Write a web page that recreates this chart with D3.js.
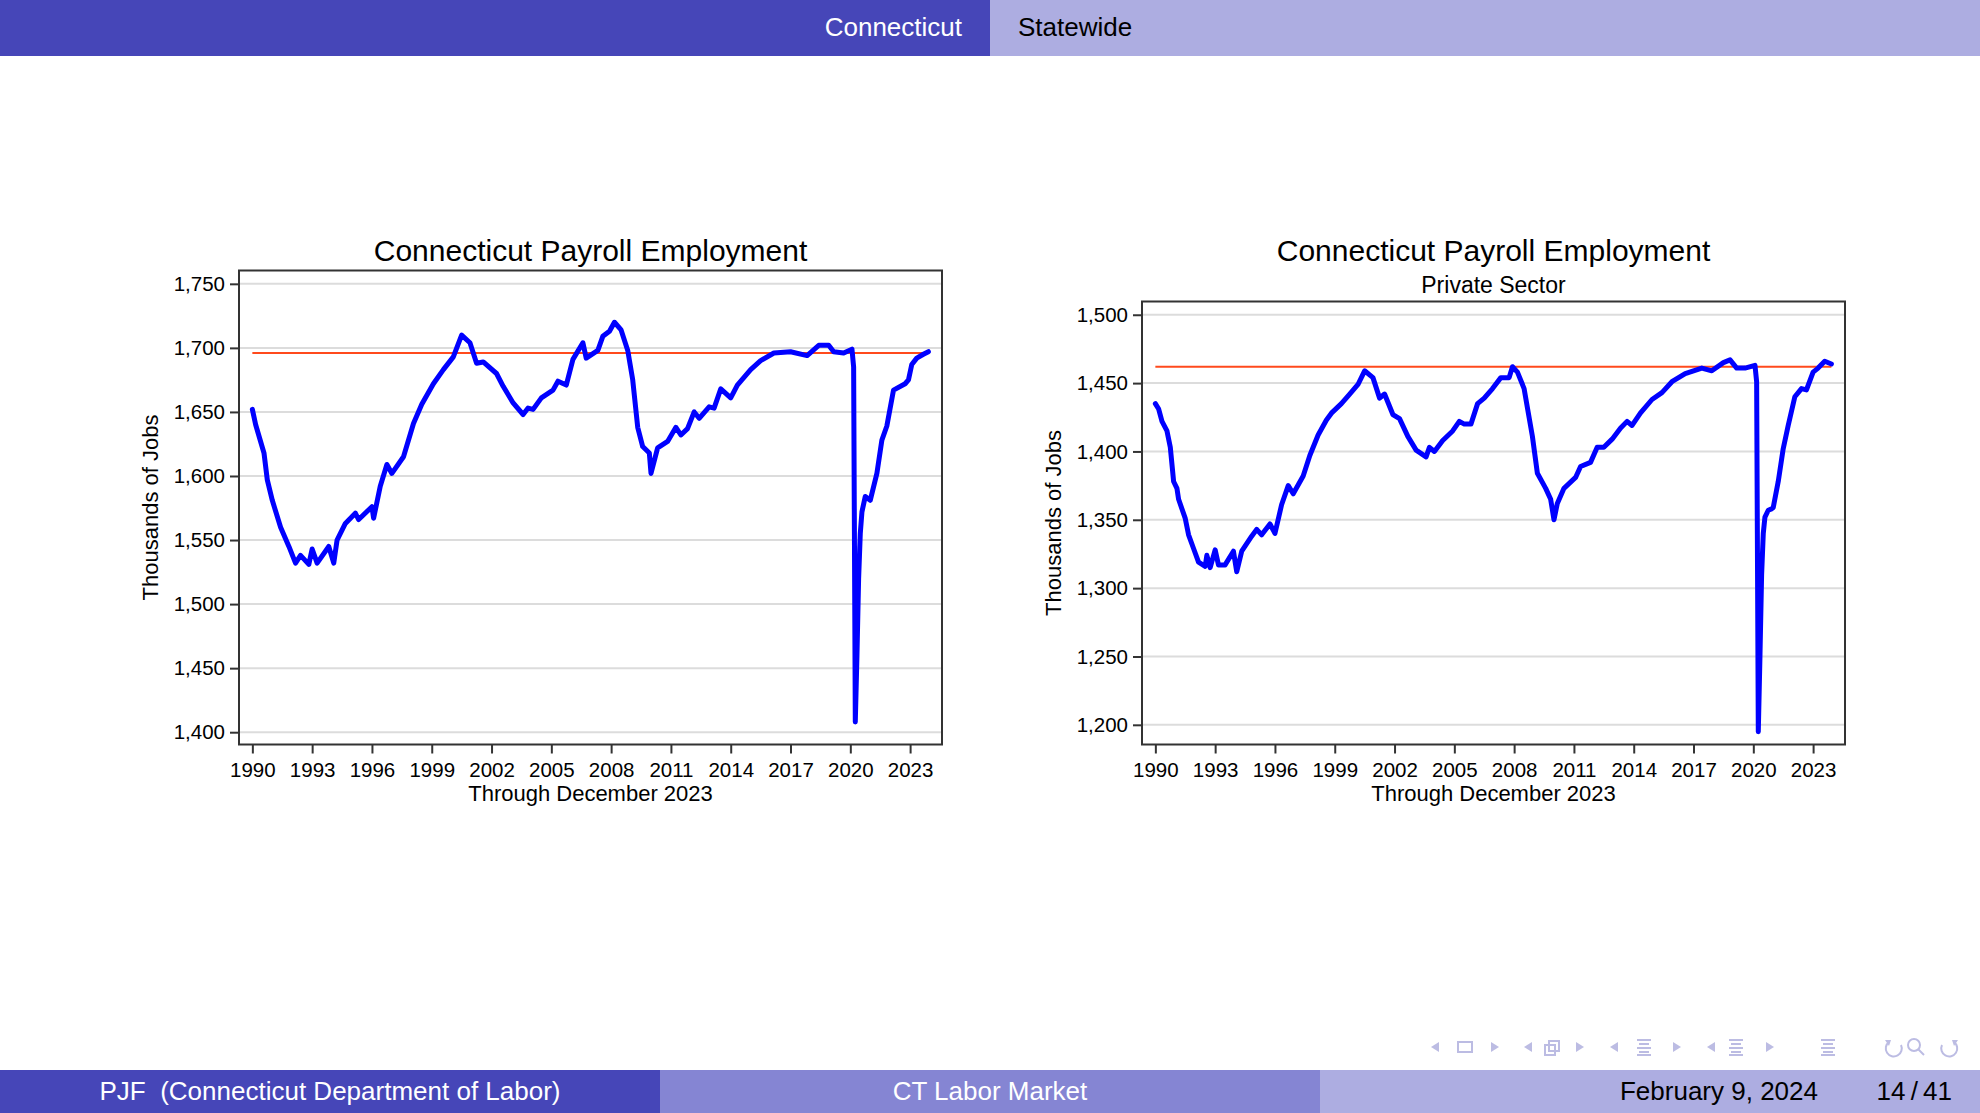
<!DOCTYPE html>
<html>
<head>
<meta charset="utf-8">
<script src="https://cdn.jsdelivr.net/npm/d3@7"></script>
<style>
body { margin: 0; background: #fff; }
text { font-family: "Liberation Sans", Arial, Helvetica, sans-serif; }
</style>
</head>
<body>
<div id="chart"></div>
<script>
// total nonfarm, thousands of jobs
var totalDates = ["1990-01","1990-03","1990-08","1990-10","1991-01","1991-06","1991-11","1992-03","1992-06","1992-11",
    "1993-01","1993-04","1993-11","1994-02","1994-04","1994-09","1995-03","1995-05","1996-01","1996-02",
    "1996-06","1996-10","1997-01","1997-08","1998-02","1998-07","1999-02","1999-08","2000-02","2000-07",
    "2000-12","2001-04","2001-08","2002-04","2002-08","2003-02","2003-08","2003-11","2004-02","2004-07",
    "2005-02","2005-05","2005-10","2006-02","2006-08","2006-10","2007-05","2007-08","2007-12","2008-03",
    "2008-07","2008-11","2009-02","2009-05","2009-08","2009-12","2010-01","2010-05","2010-11","2011-04",
    "2011-07","2011-11","2012-03","2012-06","2012-12","2013-03","2013-07","2014-01","2014-05","2015-01",
    "2015-07","2016-03","2017-01","2017-11","2018-06","2018-12","2019-03","2019-09","2020-02","2020-03",
    "2020-04","2020-05","2020-06","2020-07","2020-08","2020-10","2020-12","2021-01","2021-05","2021-08",
    "2021-11","2022-03","2022-10","2022-12","2023-02","2023-05","2023-09","2023-12"];
var totalJobs = [1652,1640,1618,1597,1581,1560,1545,1532,1538,1531,
    1543,1532,1545,1532,1550,1563,1571,1566,1576,1567,
    1592,1609,1602,1615,1641,1656,1672,1683,1693,1710,
    1704,1688,1689,1680,1670,1657,1648,1653,1652,1661,
    1667,1674,1671,1691,1704,1692,1698,1709,1713,1720,
    1714,1698,1675,1638,1623,1618,1602,1622,1627,1638,
    1632,1637,1650,1645,1654,1653,1668,1661,1671,1683,
    1690,1696,1697,1694,1702,1702,1697,1696,1699,1685,
    1408,1460,1520,1555,1572,1584,1582,1581,1602,1628,
    1639,1667,1672,1675,1687,1692,1695,1697];
var totalRef = 1696;

// private sector
var privDates = ["1990-01","1990-03","1990-05","1990-08","1990-10","1990-12","1991-02","1991-03","1991-07","1991-09",
    "1991-12","1992-03","1992-07","1992-08","1992-10","1993-01","1993-03","1993-07","1993-12","1994-02",
    "1994-05","1994-11","1995-02","1995-05","1995-10","1996-01","1996-05","1996-09","1996-12","1997-06",
    "1997-10","1998-03","1998-08","1998-11","1999-05","1999-10","2000-03","2000-07","2000-12","2001-04",
    "2001-07","2001-12","2002-04","2002-09","2003-02","2003-08","2003-10","2004-01","2004-06","2004-12",
    "2005-04","2005-07","2005-11","2006-03","2006-07","2006-12","2007-05","2007-10","2007-12","2008-03",
    "2008-07","2008-12","2009-03","2009-08","2009-11","2010-01","2010-03","2010-07","2011-02","2011-05",
    "2011-11","2012-03","2012-07","2012-12","2013-05","2013-09","2013-12","2014-05","2014-12","2015-06",
    "2015-12","2016-08","2017-06","2017-12","2018-07","2018-11","2019-03","2019-08","2020-02","2020-03",
    "2020-04","2020-05","2020-06","2020-07","2020-08","2020-10","2020-12","2021-01","2021-04","2021-07",
    "2021-10","2022-02","2022-06","2022-09","2023-01","2023-04","2023-08","2023-12"];
var privJobs = [1435,1431,1422,1415,1403,1378,1373,1365,1351,1339,
    1329,1319,1316,1324,1315,1328,1317,1317,1327,1312,
    1327,1338,1343,1339,1347,1340,1361,1375,1369,1382,
    1397,1412,1423,1428,1435,1442,1449,1459,1454,1439,
    1442,1427,1424,1411,1401,1396,1403,1400,1408,1415,
    1422,1420,1420,1435,1439,1446,1454,1454,1462,1458,
    1446,1411,1384,1373,1365,1350,1362,1373,1381,1389,
    1392,1403,1403,1409,1417,1422,1419,1428,1438,1443,
    1451,1457,1461,1459,1465,1467,1461,1461,1463,1451,
    1195,1250,1310,1340,1352,1357,1358,1359,1378,1402,
    1419,1440,1446,1445,1458,1461,1466,1464];
var privRef = 1462;

var yearTicks = [1990,1993,1996,1999,2002,2005,2008,2011,2014,2017,2020,2023];
var totalTicks = [1400,1450,1500,1550,1600,1650,1700,1750];
var privTicks = [1200,1250,1300,1350,1400,1450,1500];

var W = 1980, H = 1113,
    dark = "#4646b8", mid = "#8585d3", light = "#adade1";

function toYear(s) {
    var p = s.split("-");
    return +p[0] + (+p[1] - 1) / 12;
}

var svg = d3.select("#chart").append("svg")
    .attr("width", W)
    .attr("height", H);

svg.append("rect").attr("width", W).attr("height", H).attr("fill", "#fff");

// header bar
svg.append("rect").attr("x", 0).attr("y", 0).attr("width", 990).attr("height", 56).attr("fill", dark);
svg.append("rect").attr("x", 990).attr("y", 0).attr("width", 990).attr("height", 56).attr("fill", light);
svg.append("text").attr("x", 962).attr("y", 36).attr("text-anchor", "end")
    .attr("fill", "#fff").style("font-size", "26px").text("Connecticut");
svg.append("text").attr("x", 1018).attr("y", 36)
    .attr("fill", "#000").style("font-size", "26px").text("Statewide");

// footer bar
svg.append("rect").attr("x", 0).attr("y", 1070).attr("width", 660).attr("height", 43).attr("fill", dark);
svg.append("rect").attr("x", 660).attr("y", 1070).attr("width", 660).attr("height", 43).attr("fill", mid);
svg.append("rect").attr("x", 1320).attr("y", 1070).attr("width", 660).attr("height", 43).attr("fill", light);
svg.append("text").attr("x", 330).attr("y", 1100).attr("text-anchor", "middle")
    .attr("fill", "#fff").style("font-size", "26px").attr("xml:space", "preserve")
    .text("PJF  (Connecticut Department of Labor)");
svg.append("text").attr("x", 990).attr("y", 1100).attr("text-anchor", "middle")
    .attr("fill", "#fff").style("font-size", "26px").text("CT Labor Market");
svg.append("text").attr("x", 1818).attr("y", 1100).attr("text-anchor", "end")
    .attr("fill", "#000").style("font-size", "26px").text("February 9, 2024");
svg.append("text").attr("x", 1952).attr("y", 1100).attr("text-anchor", "end")
    .attr("fill", "#000").style("font-size", "26px").text("14\u2009/\u200941");

// beamer navigation symbols
var nav = svg.append("g").attr("fill", "#bcbce3").attr("stroke", "#bcbce3");
function triL(x) { nav.append("path").attr("d", "M" + (x + 4) + ",1042 L" + (x - 4) + ",1047 L" + (x + 4) + ",1052 Z").attr("stroke", "none"); }
function triR(x) { nav.append("path").attr("d", "M" + (x - 4) + ",1042 L" + (x + 4) + ",1047 L" + (x - 4) + ",1052 Z").attr("stroke", "none"); }
function lines(x) {
    [1040, 1044, 1048, 1052, 1055].forEach(function (y, i) {
        nav.append("line").attr("x1", x - (i % 2 ? 5 : 7)).attr("x2", x + (i % 2 ? 5 : 7))
            .attr("y1", y).attr("y2", y).attr("stroke-width", 2);
    });
}
triL(1435); nav.append("rect").attr("x", 1458).attr("y", 1042).attr("width", 14).attr("height", 10)
    .attr("fill", "none").attr("stroke-width", 2); triR(1495);
triL(1528);
nav.append("rect").attr("x", 1545).attr("y", 1045).attr("width", 10).attr("height", 10).attr("fill", "none").attr("stroke-width", 2);
nav.append("rect").attr("x", 1549).attr("y", 1041).attr("width", 10).attr("height", 10).attr("fill", "none").attr("stroke-width", 2);
triR(1580);
triL(1614); lines(1644); triR(1677);
triL(1711); lines(1736); triR(1770);
lines(1828);
// undo / find / redo
nav.append("path").attr("d", "M1889,1042 A8,8 0 1 0 1901,1045").attr("fill", "none").attr("stroke-width", 2);
nav.append("path").attr("d", "M1885,1040 L1891,1040 L1889,1046 Z").attr("stroke", "none");
nav.append("circle").attr("cx", 1914).attr("cy", 1045).attr("r", 6).attr("fill", "none").attr("stroke-width", 2);
nav.append("line").attr("x1", 1918).attr("y1", 1049).attr("x2", 1924).attr("y2", 1055).attr("stroke-width", 2);
nav.append("path").attr("d", "M1954,1042 A8,8 0 1 1 1942,1045").attr("fill", "none").attr("stroke-width", 2);
nav.append("path").attr("d", "M1958,1040 L1952,1040 L1954,1046 Z").attr("stroke", "none");

function drawPanel(opt) {
    var x = d3.scaleLinear().domain([1989.33, 2024.6]).range([opt.left, opt.left + 703]);
    var y = d3.scaleLinear().domain(opt.yDomain).range([744.5, opt.top]);
    var g = svg.append("g");

    // gridlines
    g.selectAll(".grid")
        .data(opt.yTicks)
        .enter().append("line")
        .attr("x1", opt.left).attr("x2", opt.left + 703)
        .attr("y1", function (d) { return y(d); })
        .attr("y2", function (d) { return y(d); })
        .attr("stroke", "#dcdcdc").attr("stroke-width", 2);

    var yAxis = g.append("g")
        .attr("transform", "translate(" + opt.left + ",0)")
        .call(d3.axisLeft(y).tickValues(opt.yTicks).tickFormat(d3.format(",")).tickSize(9).tickPadding(5));
    var xAxis = g.append("g")
        .attr("transform", "translate(0,744.5)")
        .call(d3.axisBottom(x).tickValues(yearTicks).tickFormat(d3.format("d")).tickSize(9).tickPadding(9));
    [yAxis, xAxis].forEach(function (a) {
        a.select(".domain").remove();
        a.selectAll(".tick line").attr("stroke", "#333").attr("stroke-width", 2);
        a.selectAll(".tick text").attr("fill", "#000")
            .style("font-size", "20.5px").style("font-family", "'Liberation Sans', Arial, sans-serif");
    });

    // reference line: current level
    g.append("line")
        .attr("x1", x(1990)).attr("x2", x(toYear("2023-12")))
        .attr("y1", y(opt.ref)).attr("y2", y(opt.ref))
        .attr("stroke", "#ff4a1c").attr("stroke-width", 2);

    var pts = opt.dates.map(function (d, i) { return { t: toYear(d), v: opt.values[i] }; });
    g.append("path")
        .datum(pts)
        .attr("fill", "none")
        .attr("stroke", "#0000ff")
        .attr("stroke-width", 5)
        .attr("stroke-linejoin", "round")
        .attr("stroke-linecap", "round")
        .attr("d", d3.line().x(function (d) { return x(d.t); }).y(function (d) { return y(d.v); }));

    // frame
    g.append("rect")
        .attr("x", opt.left).attr("y", opt.top)
        .attr("width", 703).attr("height", 744.5 - opt.top)
        .attr("fill", "none").attr("stroke", "#333").attr("stroke-width", 2);

    var cx = opt.left + 351.5;
    g.append("text").attr("x", cx).attr("y", 261).attr("text-anchor", "middle")
        .style("font-size", "30px").text("Connecticut Payroll Employment");
    if (opt.subtitle) {
        g.append("text").attr("x", cx).attr("y", 293).attr("text-anchor", "middle")
            .style("font-size", "23px").text(opt.subtitle);
    }
    g.append("text").attr("x", cx).attr("y", 801).attr("text-anchor", "middle")
        .style("font-size", "22px").text("Through December 2023");
    g.append("text")
        .attr("transform", "translate(" + (opt.left - 81) + "," + ((opt.top + 744.5) / 2) + ") rotate(-90)")
        .attr("text-anchor", "middle")
        .style("font-size", "22px").text("Thousands of Jobs");
}

drawPanel({ left: 239, top: 270.5, yDomain: [1390.4, 1760.4], yTicks: totalTicks,
    dates: totalDates, values: totalJobs, ref: totalRef });
drawPanel({ left: 1142, top: 301.5, yDomain: [1185.6, 1509.7], yTicks: privTicks,
    dates: privDates, values: privJobs, ref: privRef, subtitle: "Private Sector" });
</script>
</body>
</html>
